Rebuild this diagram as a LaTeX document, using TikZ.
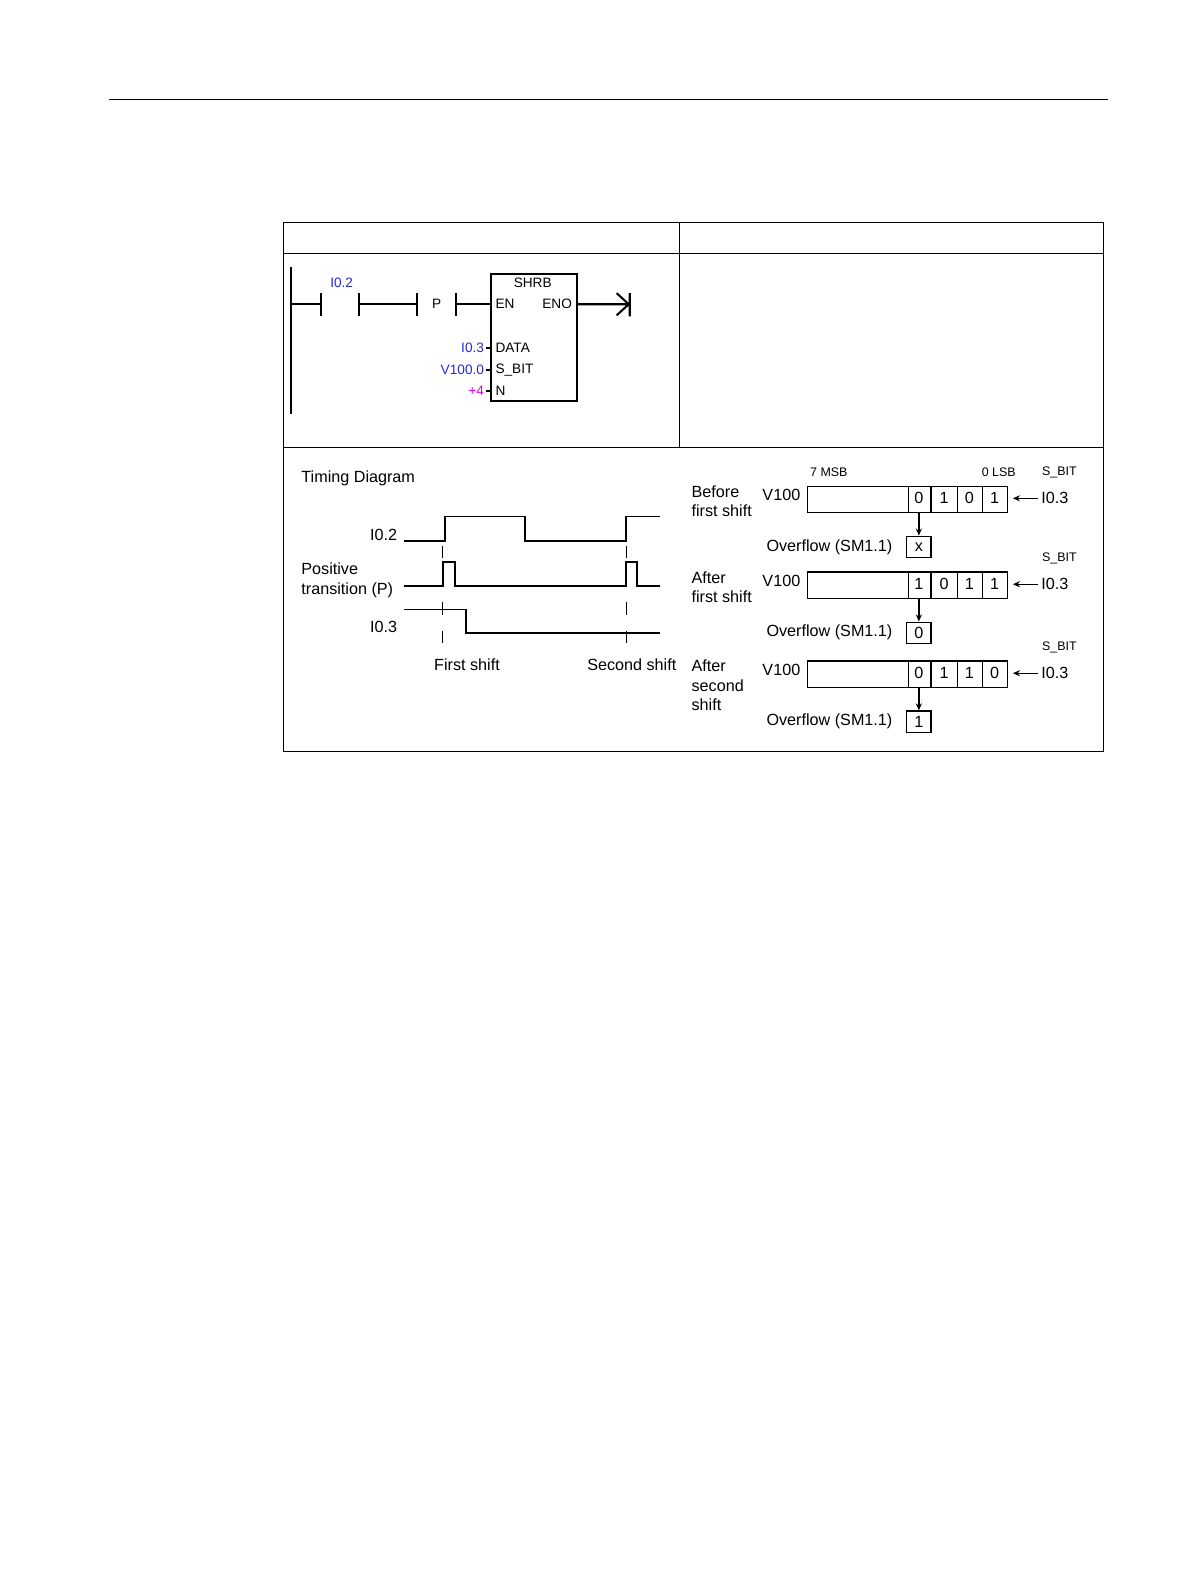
\documentclass[tikz,border=0pt]{standalone}
\usepackage{fontspec}
\setmainfont{Liberation Sans}
\usetikzlibrary{arrows.meta}
\definecolor{lblue}{RGB}{40,40,220}
\definecolor{lmag}{RGB}{230,0,230}
\begin{document}
\begin{tikzpicture}[x=1pt,y=-1pt,
  lbl/.style={font=\fontsize{16}{19}\selectfont,inner sep=0pt},
  sm/.style={font=\fontsize{12.3}{14}\selectfont,inner sep=0pt},
  lad/.style={font=\fontsize{13.5}{15}\selectfont,inner sep=0pt},
  wire/.style={line width=2pt},
  sig/.style={line width=1.8pt},
  reg/.style={line width=1.3pt},
  arr/.style={line width=1.3pt,-{Stealth[length=7pt,width=6pt]}}]
\useasboundingbox (0,0) rectangle (1178,1570);
\draw[line width=0.8pt] (108,98) -- (1096,98);
% table
\draw[line width=0.8pt] (280,220) rectangle (1092,743);
\draw[line width=0.8pt] (280,251) -- (1092,251) (280,443) -- (1092,443) (672,220) -- (672,443);
% ladder
\draw[wire] (288,264) -- (288,410);
\draw[wire] (288,301) -- (318,301) (318,290) -- (318,313) (355,290) -- (355,313) (355,301) -- (413,301) (413,290) -- (413,313)
 (451,290) -- (451,313) (451,301) -- (485,301);
\node[lad,text=lblue] (c1) at (338,280) {I0.2};
\node[lad] (p) at (432,301) {P};
\node[draw,line width=2pt,minimum width=85pt,minimum height=126pt,inner sep=0pt,anchor=north west] (shrb) at (485,270) {};
\node[lad] (t) at (527,280) {SHRB};
\node[lad,anchor=west] (en) at (490,301) {EN};
\node[lad,anchor=east] (eno) at (566,301) {ENO};
\node[lad,anchor=west] (d) at (490,344) {DATA};
\node[lad,anchor=west] (s) at (490,366) {S\_BIT};
\node[lad,anchor=west] (n) at (490,387) {N};
\draw[wire] (481,344) -- (485,344) (481,366) -- (485,366) (481,387) -- (485,387);
\node[lad,anchor=east,text=lblue] (a1) at (479,344) {I0.3};
\node[lad,anchor=east,text=lblue] (a2) at (479,366) {V100.0};
\node[lad,anchor=east,text=lmag] (a3) at (479,387) {+4};
\draw[wire] (570,301) -- (622,301) (610,290) -- (622,301) -- (610,312) (623,290) -- (623,313);
% timing
\node[lbl,anchor=west] (td) at (298,473) {Timing Diagram};
\node[lbl,anchor=east] (l1) at (393,529) {I0.2};
\node[lbl,anchor=west,align=left] (l2) at (298,574) {Positive\\transition (P)};
\node[lbl,anchor=east] (l3) at (393,620) {I0.3};
\draw[sig] (400,535) -- (440,535) -- (440,511) -- (519,511) -- (519,535) -- (619,535) -- (619,511) -- (653,511);
\draw[sig] (400,580) -- (438,580) -- (438,556) -- (450,556) -- (450,580) -- (619,580) -- (619,556) -- (630,556) -- (630,580) -- (653,580);
\draw[sig] (400,603) -- (461,603) -- (461,626) -- (653,626);
\draw[line width=1.2pt,dash pattern=on 12pt off 16pt] (438,540) -- (438,640) (620,540) -- (620,640);
\node[lbl] (fs) at (462,658) {First shift};
\node[lbl] (ss) at (625,658) {Second shift};
% registers
\node[sm] (msb) at (820,467) {7 MSB};
\node[sm] (lsb) at (988,467) {0 LSB};
\foreach \y/\lab/\a/\b/\c/\d/\o/\r in {493/{Before\\first shift}/0/1/0/1/x/1, 578/{After\\first shift}/1/0/1/1/0/2, 666/{After\\second\\shift}/0/1/1/0/1/3}{
  \node[lbl,anchor=north west,align=left] (desc\r) at (684,\y-13) {\lab};
  \node[lbl] (v\r) at (773,\y-3) {V100};
  \draw[reg] (799,\y-12) rectangle (997,\y+14);
  \draw[reg] (899,\y-12) -- (899,\y+14) (921,\y-12) -- (921,\y+14) (947,\y-12) -- (947,\y+14) (972,\y-12) -- (972,\y+14);
  \node[lbl] (b1\r) at (909,\y) {\a};
  \node[lbl] (b2\r) at (934,\y) {\b};
  \node[lbl] (b3\r) at (959,\y) {\c};
  \node[lbl] (b4\r) at (984,\y) {\d};
  \node[sm] (sb\r) at (1048,\y-26) {S\_BIT};
  \node[lbl,anchor=west] (i\r) at (1030,\y) {I0.3};
  \coordinate (ia\r) at (1027,\y);
  \coordinate (ib\r) at (1002,\y);
  \draw[arr] (ia\r) -- (ib\r);
  \node[draw,reg,minimum width=24pt,minimum height=21pt,inner sep=0pt,font=\fontsize{16}{19}\selectfont] (ov\r) at (909,\y+48) {\o};
  \node[lbl,anchor=east] (ovl\r) at (883,\y+48) {Overflow (SM1.1)};
  \coordinate (top\r) at (909,\y+14);
  \draw[arr] (top\r) -- (ov\r.north);
}
\end{tikzpicture}
\end{document}
